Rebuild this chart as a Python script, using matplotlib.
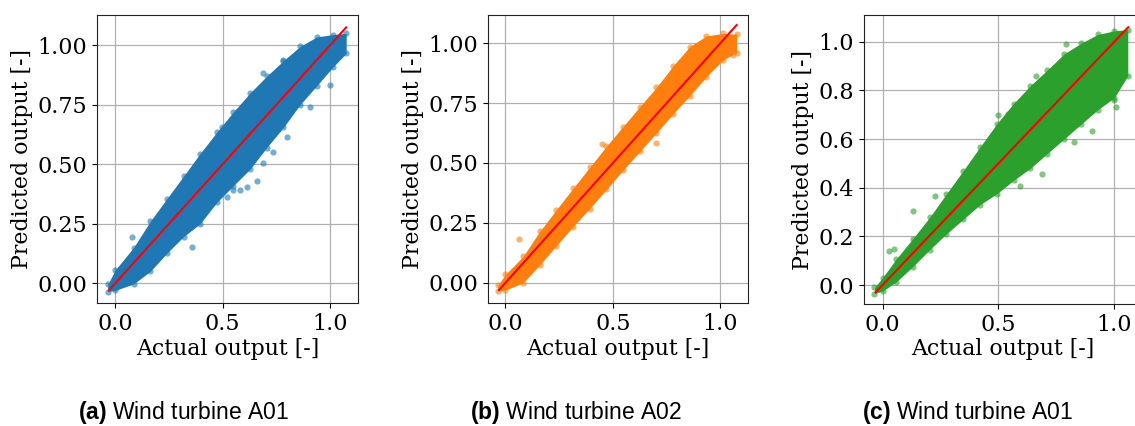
import matplotlib
matplotlib.use('Agg')
import matplotlib.pyplot as plt

# envelope of the point cloud (actual -> predicted)
x_a01 = [-0.035, 0.0, 0.085, 0.163, 0.24, 0.318, 0.395, 0.473, 0.55, 0.628, 0.705, 0.783, 0.86, 0.938, 1.015, 1.075]
up_a01 = [-0.005, 0.056, 0.15, 0.26, 0.355, 0.45, 0.545, 0.635, 0.72, 0.80, 0.87, 0.935, 0.995, 1.035, 1.045, 1.05]
lo_a01 = [-0.035, -0.03, -0.003, 0.05, 0.126, 0.196, 0.25, 0.34, 0.41, 0.48, 0.57, 0.655, 0.75, 0.83, 0.91, 0.966]
out_x_a01 = [0.078, 0.357, 0.48, 0.519, 0.581, 0.612, 0.69, 0.736, 0.798, 0.907, 1.0, 0.69, 0.496, 0.783, 0.55, 0.66]
out_y_a01 = [0.196, 0.154, 0.385, 0.364, 0.392, 0.406, 0.504, 0.553, 0.616, 0.742, 0.833, 0.882, 0.658, 0.938, 0.39, 0.43]

x_a02 = [-0.035, 0.0, 0.082, 0.16, 0.237, 0.315, 0.392, 0.47, 0.547, 0.625, 0.702, 0.78, 0.857, 0.935, 1.012, 1.075]
up_a02 = [-0.01, 0.035, 0.11, 0.215, 0.305, 0.395, 0.482, 0.57, 0.652, 0.735, 0.815, 0.905, 0.985, 1.03, 1.04, 1.037]
lo_a02 = [-0.035, -0.03, 0.0, 0.075, 0.155, 0.235, 0.31, 0.39, 0.47, 0.548, 0.625, 0.705, 0.78, 0.86, 0.93, 0.96]
out_x_a02 = [0.064, 0.702, 1.06, 0.45, 0.87]
out_y_a02 = [0.183, 0.584, 0.95, 0.58, 0.97]

x_a01b = [-0.035, 0.0, 0.058, 0.13, 0.203, 0.275, 0.348, 0.42, 0.493, 0.565, 0.638, 0.71, 0.783, 0.855, 0.928, 1.0, 1.058]
up_a01b = [-0.01, 0.03, 0.106, 0.19, 0.278, 0.374, 0.47, 0.567, 0.663, 0.746, 0.82, 0.883, 0.95, 0.993, 1.03, 1.045, 1.05]
lo_a01b = [-0.035, -0.025, 0.012, 0.075, 0.145, 0.21, 0.27, 0.33, 0.375, 0.43, 0.48, 0.54, 0.6, 0.66, 0.72, 0.77, 0.86]
out_x_a01b = [0.029, 0.05, 0.13, 0.225, 0.5, 0.543, 0.66, 0.79, 1.0, 1.007, 0.903, 0.826, 0.688, 0.594]
out_y_a01b = [0.14, 0.147, 0.305, 0.367, 0.697, 0.704, 0.858, 0.989, 0.76, 0.73, 0.635, 0.587, 0.457, 0.408]

line_a01 = [-0.03, 1.075]
line_a02 = [-0.03, 1.075]
line_a01b = [-0.03, 1.06]

captions = ['(a)', '(b)', '(c)']
titles = ['Wind turbine A01', 'Wind turbine A02', 'Wind turbine A01']
colors = ['#1f77b4', '#ff7f0e', '#2ca02c']

plt.rcParams['font.family'] = 'DejaVu Serif'
plt.rcParams['mathtext.fontset'] = 'custom'
plt.rcParams['mathtext.bf'] = 'Liberation Sans:bold'
plt.rcParams['mathtext.rm'] = 'Liberation Sans'

W, H = 1135, 426
fig = plt.figure(figsize=(W / 100, H / 100), dpi=100)

# axes boxes in pixels: left, right, top, bottom
boxes = [(97, 358, 15, 303), (488, 748, 15, 303), (864, 1141, 15, 304)]
xlims = [(-0.085, 1.13), (-0.081, 1.128), (-0.08, 1.115)]
ylims = [(-0.083, 1.127), (-0.084, 1.117), (-0.078, 1.11)]
yticks = [[0, 0.25, 0.5, 0.75, 1.0], [0, 0.25, 0.5, 0.75, 1.0], [0, 0.2, 0.4, 0.6, 0.8, 1.0]]
yfmt = ['{:.2f}', '{:.2f}', '{:.1f}']
cap_x = [183, 576, 967]

panels = [
    (x_a01, up_a01, lo_a01, out_x_a01, out_y_a01, line_a01),
    (x_a02, up_a02, lo_a02, out_x_a02, out_y_a02, line_a02),
    (x_a01b, up_a01b, lo_a01b, out_x_a01b, out_y_a01b, line_a01b),
]

for i, (xs, up, lo, ox, oy, ln) in enumerate(panels):
    l, r, t, b = boxes[i]
    ax = fig.add_axes([l / W, 1 - b / H, (r - l) / W, (b - t) / H])
    c = colors[i]
    ax.fill_between(xs, lo, up, color=c, lw=0, zorder=2)
    # edge points of the cloud
    ax.scatter(xs + xs, up + lo, s=20, color=c, alpha=0.6, lw=0, zorder=2)
    ax.scatter(ox, oy, s=20, color=c, alpha=0.6, lw=0, zorder=2)
    ax.plot(ln, ln, color='red', lw=1.5, zorder=3)
    ax.set_xlim(*xlims[i])
    ax.set_ylim(*ylims[i])
    ax.set_xticks([0, 0.5, 1.0])
    ax.set_xticklabels(['0.0', '0.5', '1.0'])
    ax.set_yticks(yticks[i])
    ax.set_yticklabels([yfmt[i].format(v) for v in yticks[i]])
    ax.tick_params(labelsize=16)
    ax.grid(True, color='#b0b0b0', lw=0.9, zorder=0)
    ax.set_axisbelow(True)
    ax.set_xlabel('Actual output [-]', fontsize=15.8, labelpad=2)
    ax.set_ylabel('Predicted output [-]', fontsize=15.8, labelpad=3)
    for s in ax.spines.values():
        s.set_color('#222222')

    fig.text(cap_x[i] / W, 1 - 412 / H, r'$\mathbf{' + captions[i] + '}$ ' + titles[i],
             family='Liberation Sans', fontsize=16.5, ha='center', va='center')

fig.savefig('out.png', dpi=100)
